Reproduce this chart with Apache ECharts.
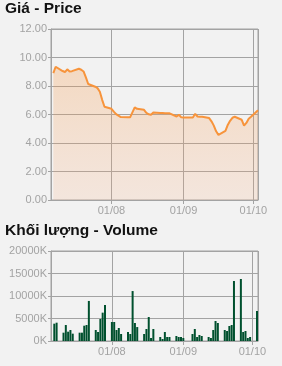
<!DOCTYPE html>
<html><head><meta charset="utf-8">
<script src="https://cdn.jsdelivr.net/npm/echarts@6/dist/echarts.min.js"></script>
<style>html,body{margin:0;padding:0;background:#f2f2f2;}#c{width:282px;height:366px;}</style>
</head><body><div id="c"></div>
<script>
var dates = ['2011-07-07','2011-07-08','2011-07-11','2011-07-12','2011-07-13','2011-07-14','2011-07-15',
'2011-07-18','2011-07-19','2011-07-20','2011-07-21','2011-07-22','2011-07-25','2011-07-26','2011-07-27','2011-07-28','2011-07-29',
'2011-08-01','2011-08-02','2011-08-03','2011-08-04','2011-08-05','2011-08-08','2011-08-09','2011-08-10','2011-08-11','2011-08-12',
'2011-08-15','2011-08-16','2011-08-17','2011-08-18','2011-08-19','2011-08-22','2011-08-23','2011-08-24','2011-08-25','2011-08-26',
'2011-08-29','2011-08-30','2011-08-31','2011-09-01','2011-09-05','2011-09-06','2011-09-07','2011-09-08','2011-09-09',
'2011-09-12','2011-09-13','2011-09-14','2011-09-15','2011-09-16','2011-09-19','2011-09-20','2011-09-21','2011-09-22','2011-09-23',
'2011-09-26','2011-09-27','2011-09-28','2011-09-29','2011-09-30','2011-10-03'];
var prices = [8.91,9.35,9.05,8.98,9.17,9.02,9.04,
9.21,9.14,9.02,8.60,8.14,7.95,7.85,7.60,7.03,6.54,
6.40,6.20,6.03,5.92,5.82,5.80,5.80,6.15,6.50,6.40,
6.33,6.12,6.01,5.98,6.14,6.10,6.10,6.08,6.08,6.08,
5.86,5.98,5.80,5.79,5.79,6.05,5.86,5.84,5.84,
5.75,5.52,5.22,4.82,4.57,4.85,5.27,5.56,5.77,5.84,
5.63,5.22,5.41,5.70,5.84,6.30];
var volumesK = [3850,4070,1850,3550,2070,2440,1630,
1850,1850,3400,3550,8900,2440,2000,4890,6300,8000,
4220,4220,2440,2890,1560,2000,1560,11100,4000,3100,
1560,2670,5330,670,2670,890,450,2000,890,890,
1110,890,890,670,1560,2670,890,1330,1110,
890,670,2440,4440,4000,2440,2220,3330,3550,13330,
13780,2000,2220,670,890,6670];
var xMin = '2011-07-06', xMax = '2011-10-03';
var priceTicks = {min:0, max:12, step:2};
var volTicks = {min:0, max:20000, step:5000};

var FONT = 'Liberation Sans, Arial, sans-serif';
var GRAY = '#a3a3a3';
var priceData = dates.map(function(d,i){return [d, prices[i]];});
var volData = dates.map(function(d,i){return [d, volumesK[i]];});
var DAY = 86400000;
function xAxisCfg(idx){
  return {type:'time', gridIndex:idx, min:xMin, max:xMax, minInterval:28*DAY, maxInterval:31*DAY,
    axisLine:{show:true, lineStyle:{color:GRAY}},
    axisTick:{show:true, length:4, lineStyle:{color:GRAY}},
    splitLine:{show:true, lineStyle:{color:GRAY, width:1}},
    axisLabel:{formatter:'{dd}/{MM}', color:GRAY, fontSize:11, fontFamily:FONT, margin:5}};
}
function yAxisCfg(idx, t, fmt){
  return {type:'value', gridIndex:idx, min:t.min, max:t.max, interval:t.step,
    axisLine:{show:true, lineStyle:{color:GRAY}},
    axisTick:{show:true, length:3, lineStyle:{color:GRAY}},
    splitLine:{show:true, lineStyle:{color:GRAY, width:1}},
    axisLabel:{formatter:fmt, color:GRAY, fontSize:11, fontFamily:FONT, margin:4}};
}
var chart = echarts.init(document.getElementById('c'), null, {renderer:'canvas'});
chart.setOption({
  backgroundColor:'#f2f2f2',
  animation:false,
  title:[
    {text:'Giá - Price', left:5, top:1, padding:0, textStyle:{fontSize:15.5, fontWeight:'bold', color:'#111', fontFamily:FONT}},
    {text:'Khối lượng - Volume', left:5, top:223, padding:0, textStyle:{fontSize:15.5, fontWeight:'bold', color:'#111', fontFamily:FONT}}
  ],
  grid:[
    {left:51, right:24, top:29, height:171, show:true, borderColor:GRAY, borderWidth:1, backgroundColor:'transparent'},
    {left:51, right:24, top:251, height:90, show:true, borderColor:GRAY, borderWidth:1, backgroundColor:'transparent'}
  ],
  xAxis:[xAxisCfg(0), xAxisCfg(1)],
  yAxis:[
    yAxisCfg(0, priceTicks, function(v){return v.toFixed(2);}),
    yAxisCfg(1, volTicks, function(v){return v + 'K';})
  ],
  series:[
    {type:'line', xAxisIndex:0, yAxisIndex:0, data:priceData, showSymbol:false, smooth:false,
     lineStyle:{color:'#f7943c', width:2}, itemStyle:{color:'#f7943c'},
     areaStyle:{color:new echarts.graphic.LinearGradient(0,0,0,1,[
       {offset:0, color:'rgba(247,148,60,0.38)'},{offset:1, color:'rgba(250,170,120,0.25)'}])}},
    {type:'bar', xAxisIndex:1, yAxisIndex:1, data:volData, barWidth:2,
     itemStyle:{color:'#00502e'}}
  ]
});
</script></body></html>
